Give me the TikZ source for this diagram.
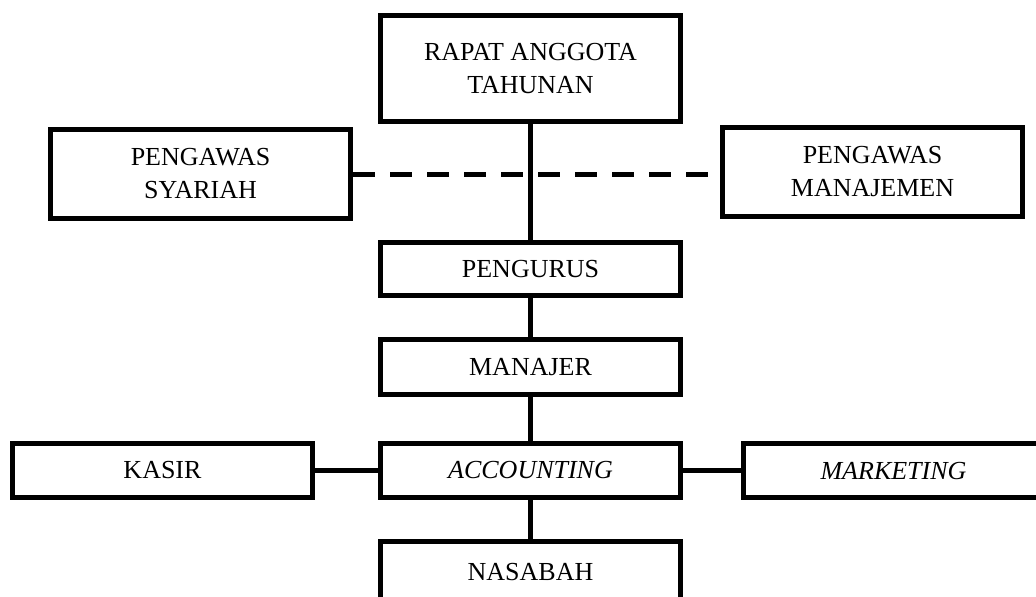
\documentclass[tikz,border=0pt]{standalone}
\usepackage{fontspec}
\setmainfont{Liberation Serif}
\usepackage{tikz}

\begin{document}
\begin{tikzpicture}[x=0.5pt,y=-0.5pt,line width=2.5pt,
   box/.style n args={2}{draw,rectangle,inner sep=0pt,align=center,minimum width=#1,minimum height=#2,font=\fontsize{13}{16.5}\selectfont},
   link/.style={draw},
   dashlink/.style={draw,dash pattern=on 11pt off 7.5pt}]
\useasboundingbox (0,0) rectangle (1036,596);
\clip (0,0) rectangle (1036,596);
% central column
\node[box={150pt}{53pt}] (rapat) at (530.5,68.5) {RAPAT ANGGOTA\\TAHUNAN};
\node[box={150pt}{26.5pt}] (pengurus) at (530.5,269) {PENGURUS};
\node[box={150pt}{27.5pt}] (manajer) at (530.5,367) {MANAJER};
\node[box={150pt}{27pt}] (accounting) at (530.5,470.5) {\textit{ACCOUNTING}};
\node[box={150pt}{31pt}] (nasabah) at (530.5,572.5) {NASABAH};
% sides
\node[box={150pt}{44.5pt}] (syariah) at (200.5,174) {PENGAWAS\\SYARIAH};
\node[box={150pt}{44.5pt}] (manajemen) at (872.5,172) {PENGAWAS\\MANAJEMEN};
\node[box={150pt}{27pt}] (kasir) at (162.5,470.5) {KASIR};
\node[box={150pt}{27pt}] (marketing) at (893.5,470.5) {\textit{MARKETING}};
% lines
\foreach \a/\b in {rapat/pengurus,pengurus/manajer,manajer/accounting,accounting/nasabah} {
   \path[link] (\a.south) -- (\b.north);
}
\path[link] (kasir.east) -- (accounting.west);
\path[link] (accounting.east) -- (marketing.west);
\path[dashlink] (syariah.east) -- ([xshift=-5.5pt]syariah.east -| manajemen.west);
\end{tikzpicture}
\end{document}
